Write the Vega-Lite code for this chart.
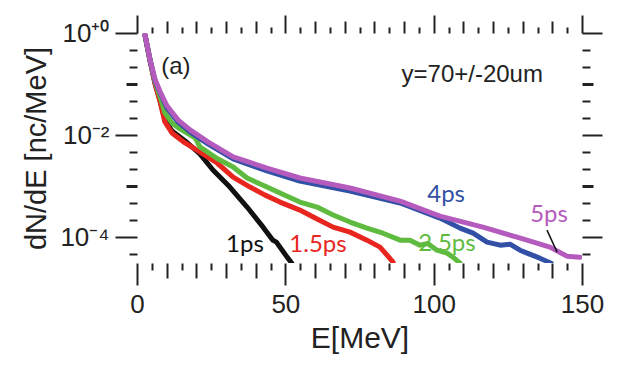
{
  "$schema": "https://vega.github.io/schema/vega-lite/v6.json",
  "width": 445,
  "height": 230,
  "autosize": {"type": "none"},
  "padding": {"left": 137, "top": 33, "right": 43, "bottom": 105},
  "background": "white",
  "config": {"view": {"stroke": null}},
  "datasets": {
    "curves": [
      {"series":"1ps","E":2.7,"v":0.9},{"series":"1ps","E":4.4,"v":0.286},{"series":"1ps","E":6.1,"v":0.1014},{"series":"1ps","E":7.8,"v":0.0471},{"series":"1ps","E":9.4,"v":0.02},{"series":"1ps","E":11.8,"v":0.0121},{"series":"1ps","E":16.2,"v":0.00773},{"series":"1ps","E":21.2,"v":0.0043},{"series":"1ps","E":25.6,"v":0.00209},{"series":"1ps","E":31.3,"v":0.000968},{"series":"1ps","E":37.1,"v":0.000393},{"series":"1ps","E":42.5,"v":0.000159},{"series":"1ps","E":45.8,"v":0.0000885},{"series":"1ps","E":47.0,"v":0.0000810},{"series":"1ps","E":48.2,"v":0.0000645},{"series":"1ps","E":50.6,"v":0.0000411},{"series":"1ps","E":52.2,"v":0.0000313},
      {"series":"1.5ps","E":2.7,"v":0.9},{"series":"1.5ps","E":4.4,"v":0.286},{"series":"1.5ps","E":6.1,"v":0.1014},{"series":"1.5ps","E":7.8,"v":0.045},{"series":"1.5ps","E":9.4,"v":0.0182},{"series":"1.5ps","E":11.8,"v":0.0111},{"series":"1.5ps","E":16.2,"v":0.00706},{"series":"1.5ps","E":20.6,"v":0.00492},{"series":"1.5ps","E":27.0,"v":0.00286},{"series":"1.5ps","E":32.4,"v":0.00152},{"series":"1.5ps","E":38.1,"v":0.000968},{"series":"1.5ps","E":43.0,"v":0.00068},{"series":"1.5ps","E":48.2,"v":0.000492},{"series":"1.5ps","E":54.9,"v":0.000343},{"series":"1.5ps","E":60.7,"v":0.000229},{"series":"1.5ps","E":66.1,"v":0.000159},{"series":"1.5ps","E":71.8,"v":0.000127},{"series":"1.5ps","E":77.5,"v":0.0000885},{"series":"1.5ps","E":81.9,"v":0.0000645},{"series":"1.5ps","E":84.3,"v":0.000045},{"series":"1.5ps","E":86.3,"v":0.0000328},
      {"series":"2.5ps","E":2.7,"v":0.9},{"series":"2.5ps","E":4.4,"v":0.299},{"series":"2.5ps","E":6.1,"v":0.111},{"series":"2.5ps","E":7.8,"v":0.0563},{"series":"2.5ps","E":9.4,"v":0.0274},{"series":"2.5ps","E":11.8,"v":0.0174},{"series":"2.5ps","E":14.5,"v":0.0133},{"series":"2.5ps","E":19.6,"v":0.00885},{"series":"2.5ps","E":21.2,"v":0.0059},{"series":"2.5ps","E":27.0,"v":0.0035},{"series":"2.5ps","E":32.4,"v":0.00239},{"series":"2.5ps","E":37.1,"v":0.001455},{"series":"2.5ps","E":43.8,"v":0.000968},{"series":"2.5ps","E":48.2,"v":0.000739},{"series":"2.5ps","E":54.9,"v":0.000492},{"series":"2.5ps","E":60.7,"v":0.000393},{"series":"2.5ps","E":66.1,"v":0.000274},{"series":"2.5ps","E":71.8,"v":0.0002},{"series":"2.5ps","E":77.5,"v":0.000152},{"series":"2.5ps","E":82.9,"v":0.000121},{"series":"2.5ps","E":88.7,"v":0.0000885},{"series":"2.5ps","E":92.0,"v":0.0000885},{"series":"2.5ps","E":95.4,"v":0.0000706},{"series":"2.5ps","E":98.0,"v":0.0000760},{"series":"2.5ps","E":101.1,"v":0.0000563},{"series":"2.5ps","E":104.5,"v":0.0000492},{"series":"2.5ps","E":106.5,"v":0.0000411},{"series":"2.5ps","E":108.9,"v":0.0000313},
      {"series":"4ps","E":2.7,"v":0.9},{"series":"4ps","E":4.4,"v":0.299},{"series":"4ps","E":6.1,"v":0.116},{"series":"4ps","E":7.8,"v":0.0675},{"series":"4ps","E":10.1,"v":0.0343},{"series":"4ps","E":13.8,"v":0.0182},{"series":"4ps","E":17.9,"v":0.0116},{"series":"4ps","E":23.9,"v":0.00675},{"series":"4ps","E":32.4,"v":0.00343},{"series":"4ps","E":43.8,"v":0.002},{"series":"4ps","E":54.9,"v":0.00127},{"series":"4ps","E":71.8,"v":0.000809},{"series":"4ps","E":88.7,"v":0.000471},{"series":"4ps","E":102.1,"v":0.000239},{"series":"4ps","E":108.9,"v":0.000152},{"series":"4ps","E":113.3,"v":0.000121},{"series":"4ps","E":118.0,"v":0.0000809},{"series":"4ps","E":122.4,"v":0.0000706},{"series":"4ps","E":125.7,"v":0.0000739},{"series":"4ps","E":129.1,"v":0.0000563},{"series":"4ps","E":131.5,"v":0.0000492},{"series":"4ps","E":135.8,"v":0.0000393},{"series":"4ps","E":139.6,"v":0.0000313},
      {"series":"5ps","E":2.7,"v":0.93},{"series":"5ps","E":4.4,"v":0.299},{"series":"5ps","E":6.1,"v":0.1215},{"series":"5ps","E":7.8,"v":0.0706},{"series":"5ps","E":10.1,"v":0.0376},{"series":"5ps","E":13.8,"v":0.01995},{"series":"5ps","E":17.9,"v":0.0127},{"series":"5ps","E":23.9,"v":0.0074},{"series":"5ps","E":32.4,"v":0.00376},{"series":"5ps","E":43.8,"v":0.00228},{"series":"5ps","E":54.9,"v":0.001455},{"series":"5ps","E":71.8,"v":0.000927},{"series":"5ps","E":88.7,"v":0.000515},{"series":"5ps","E":102.1,"v":0.000262},{"series":"5ps","E":116.6,"v":0.000159},{"series":"5ps","E":128.1,"v":0.000101},{"series":"5ps","E":139.2,"v":0.0000645},{"series":"5ps","E":144.9,"v":0.000043},{"series":"5ps","E":149.3,"v":0.0000411}
    ],
    "labels": [
      {"series":"1ps","E":36.4,"v":0.0000706,"label":"1ps"},
      {"series":"1.5ps","E":61.0,"v":0.0000706,"label":"1.5ps"},
      {"series":"2.5ps","E":104.5,"v":0.000074,"label":"2.5ps"},
      {"series":"4ps","E":104.2,"v":0.000674,"label":"4ps"},
      {"series":"5ps","E":138.9,"v":0.000274,"label":"5ps"}
    ],
    "notes": [
      {"E":13.1,"v":0.218,"label":"(a)"},
      {"E":113,"v":0.152,"label":"y=70+/-20um"}
    ],
    "pointer": [
      {"E":138.2,"v":0.000139},
      {"E":141.6,"v":0.0000515}
    ]
  },
  "layer": [
    {
      "data": {"name": "curves"},
      "mark": {"type": "line", "strokeWidth": 5, "strokeJoin": "round", "strokeCap": "round", "clip": true},
      "encoding": {
        "x": {"field": "E", "type": "quantitative",
          "scale": {"domain": [0, 150], "nice": false, "zero": false},
          "axis": {"orient": "bottom", "title": "E[MeV]", "titleFontSize": 30, "titleFont": "Liberation Sans", "titleFontWeight": "normal", "titlePadding": 6, "titleColor": "#222",
            "values": [0,5,10,15,20,25,30,35,40,45,50,55,60,65,70,75,80,85,90,95,100,105,110,115,120,125,130,135,140,145,150],
            "labelExpr": "datum.value % 50 == 0 ? datum.label : ''",
            "labelFont": "Liberation Sans", "labelFontSize": 26, "labelColor": "#222", "labelFlush": false, "labelOverlap": false, "labelPadding": 6,
            "domain": false, "grid": false, "tickColor": "#222", "tickWidth": 2,
            "tickSize": {"condition": [{"test": "datum.value % 50 == 0", "value": 22}, {"test": "datum.value % 10 == 0", "value": 15}], "value": 7}
          }
        },
        "y": {"field": "v", "type": "quantitative",
          "scale": {"type": "log", "domain": [0.0000316, 1], "nice": false},
          "axis": {"orient": "left", "title": "dN/dE [nc/MeV]", "titleFontSize": 29, "titleFont": "Liberation Sans", "titleFontWeight": "normal", "titlePadding": 8, "titleColor": "#222",
            "values": [1, 0.46416, 0.21544, 0.1, 0.046416, 0.021544, 0.01, 0.0046416, 0.0021544, 0.001, 0.00046416, 0.00021544, 0.0001, 0.000046416],
            "labelExpr": "datum.value == 1 ? '10⁺⁰' : datum.value == 0.01 ? '10⁻²' : datum.value == 0.0001 ? '10⁻⁴' : ''",
            "labelFont": "Liberation Sans", "labelFontSize": 26, "labelColor": "#222", "labelFlush": false, "labelOverlap": false, "labelPadding": 6,
            "domain": false, "grid": false, "tickColor": "#222",
            "tickWidth": {"condition": {"test": "datum.value == 0.1 || datum.value == 0.001", "value": 3}, "value": 2},
            "tickSize": {"condition": [{"test": "datum.value == 1 || datum.value == 0.01 || datum.value == 0.0001", "value": 22}, {"test": "datum.value == 0.1 || datum.value == 0.001", "value": 11}], "value": 8}
          }
        },
        "color": {"field": "series", "type": "nominal",
          "scale": {"domain": ["1ps","1.5ps","2.5ps","4ps","5ps"], "range": ["#111111","#e8251f","#5fbb3f","#3250a6","#b55bbd"]},
          "legend": null}
      }
    },
    {
      "data": {"name": "pointer"},
      "mark": {"type": "line", "strokeWidth": 1.5, "color": "#111"},
      "encoding": {
        "x": {"field": "E", "type": "quantitative",
          "axis": {"orient": "top", "title": null, "labels": false,
            "values": [0,5,10,15,20,25,30,35,40,45,50,55,60,65,70,75,80,85,90,95,100,105,110,115,120,125,130,135,140,145,150],
            "domain": false, "grid": false, "tickColor": "#222", "tickWidth": 2,
            "tickSize": {"condition": [{"test": "datum.value % 50 == 0", "value": 18}, {"test": "datum.value % 10 == 0", "value": 12}], "value": 6}
          }
        },
        "y": {"field": "v", "type": "quantitative",
          "axis": {"orient": "right", "title": null, "labels": false,
            "values": [1, 0.46416, 0.21544, 0.1, 0.046416, 0.021544, 0.01, 0.0046416, 0.0021544, 0.001, 0.00046416, 0.00021544, 0.0001, 0.000046416],
            "domain": false, "grid": false, "tickColor": "#222",
            "tickWidth": {"condition": {"test": "datum.value == 0.1 || datum.value == 0.001", "value": 3}, "value": 2},
            "tickSize": {"condition": [{"test": "datum.value == 1 || datum.value == 0.01 || datum.value == 0.0001", "value": 20}, {"test": "datum.value == 0.1 || datum.value == 0.001", "value": 11}], "value": 8}
          }
        }
      }
    },
    {
      "data": {"name": "labels"},
      "mark": {"type": "text", "font": "Lato", "fontSize": 24, "align": "center", "baseline": "middle"},
      "encoding": {
        "x": {"field": "E", "type": "quantitative", "axis": null},
        "y": {"field": "v", "type": "quantitative", "axis": null},
        "text": {"field": "label"},
        "color": {"field": "series", "type": "nominal", "legend": null}
      }
    },
    {
      "data": {"name": "notes"},
      "mark": {"type": "text", "font": "Liberation Sans", "fontSize": 24, "align": "center", "baseline": "middle", "color": "#222"},
      "encoding": {
        "x": {"field": "E", "type": "quantitative", "axis": null},
        "y": {"field": "v", "type": "quantitative", "axis": null},
        "text": {"field": "label"}
      }
    }
  ],
  "resolve": {"axis": {"x": "independent", "y": "independent"}}
}
